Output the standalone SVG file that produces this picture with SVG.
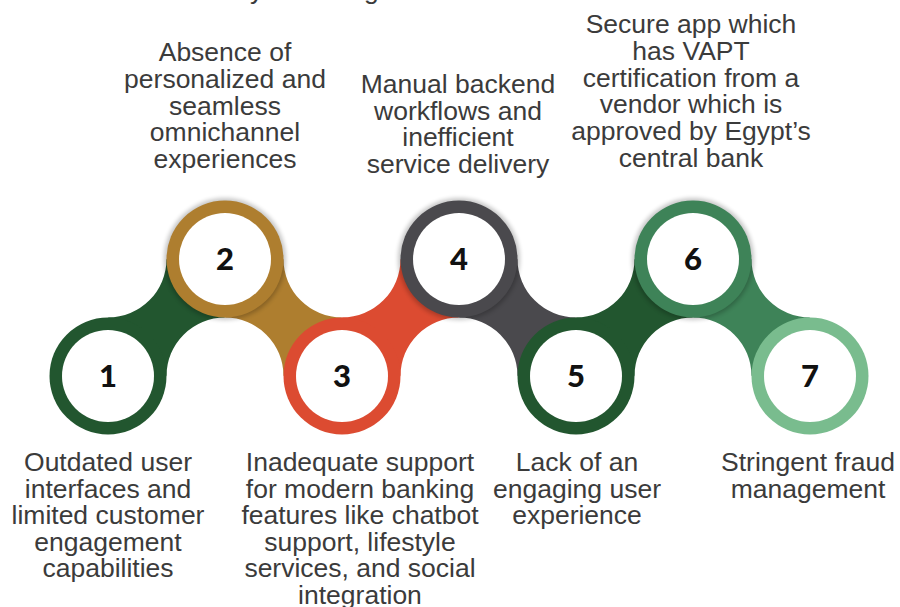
<svg xmlns="http://www.w3.org/2000/svg" width="900" height="607" viewBox="0 0 900 607">
<style>
.lbl{font-family:"Liberation Sans",Arial,sans-serif;font-size:26.5px;fill:#3b3b3b;text-anchor:middle}
.num{font-family:Lato,"DejaVu Sans",sans-serif;font-weight:900;font-size:31px;fill:#111;text-anchor:middle}
.inner{fill:#fff}
.shadow{fill:#000;opacity:0.22;filter:url(#blur)}
</style>
<defs>
<filter id="blur" x="-20%" y="-20%" width="140%" height="140%"><feGaussianBlur stdDeviation="2"/></filter>
</defs>
<rect width="900" height="607" fill="#fff"/>
<g id="title-fragment" class="lbl" style="text-anchor:start">
<text x="250" y="-1.5">y</text>
<text x="364" y="-1.5">g</text>
</g>
<g id="connectors">
<path fill="#22562F" d="M108,317.5 A58.5,58.5 0 0 0 166.5,259 L225,317.5 A58.5,58.5 0 0 0 166.5,376 Z"/>
<path fill="#AE7E2F" d="M283.5,259 A58.5,58.5 0 0 0 342,317.5 L283.5,376 A58.5,58.5 0 0 0 225,317.5 Z"/>
<path fill="#DC4B31" d="M342,317.5 A58.5,58.5 0 0 0 400.5,259 L459,317.5 A58.5,58.5 0 0 0 400.5,376 Z"/>
<path fill="#4A494D" d="M517.5,259 A58.5,58.5 0 0 0 576,317.5 L517.5,376 A58.5,58.5 0 0 0 459,317.5 Z"/>
<path fill="#22562F" d="M576,317.5 A58.5,58.5 0 0 0 634.5,259 L693,317.5 A58.5,58.5 0 0 0 634.5,376 Z"/>
<path fill="#3E8358" d="M751.5,259 A58.5,58.5 0 0 0 810,317.5 L751.5,376 A58.5,58.5 0 0 0 693,317.5 Z"/>
</g>
<g id="shadows">
<circle class="shadow" cx="225" cy="259" r="61"/>
<circle class="shadow" cx="459" cy="259" r="61"/>
<circle class="shadow" cx="693" cy="259" r="61"/>
</g>
<g id="node1">
<circle cx="108" cy="376" r="58.5" fill="#22562F"/>
<circle class="inner" cx="108" cy="376" r="46"/>
<text class="num" x="108" y="387">1</text>
<text class="lbl"><tspan x="108" y="471">Outdated user</tspan><tspan x="108" y="498">interfaces and</tspan><tspan x="108" y="524">limited customer</tspan><tspan x="108" y="551">engagement</tspan><tspan x="108" y="577">capabilities</tspan></text>
</g>
<g id="node2">
<circle cx="225" cy="259" r="58.5" fill="#AE7E2F"/>
<circle class="inner" cx="225" cy="259" r="46"/>
<text class="num" x="225" y="270">2</text>
<text class="lbl"><tspan x="225" y="61">Absence of</tspan><tspan x="225" y="88">personalized and</tspan><tspan x="225" y="115">seamless</tspan><tspan x="225" y="141">omnichannel</tspan><tspan x="225" y="168">experiences</tspan></text>
</g>
<g id="node3">
<circle cx="342" cy="376" r="58.5" fill="#DC4B31"/>
<circle class="inner" cx="342" cy="376" r="46"/>
<text class="num" x="342" y="387">3</text>
<text class="lbl"><tspan x="360" y="471">Inadequate support</tspan><tspan x="360" y="498">for modern banking</tspan><tspan x="360" y="524">features like chatbot</tspan><tspan x="360" y="551">support, lifestyle</tspan><tspan x="360" y="577">services, and social</tspan><tspan x="360" y="604">integration</tspan></text>
</g>
<g id="node4">
<circle cx="459" cy="259" r="58.5" fill="#4A494D"/>
<circle class="inner" cx="459" cy="259" r="46"/>
<text class="num" x="459" y="270">4</text>
<text class="lbl"><tspan x="458" y="93">Manual backend</tspan><tspan x="458" y="120">workflows and</tspan><tspan x="458" y="146">inefficient</tspan><tspan x="458" y="173">service delivery</tspan></text>
</g>
<g id="node5">
<circle cx="576" cy="376" r="58.5" fill="#22562F"/>
<circle class="inner" cx="576" cy="376" r="46"/>
<text class="num" x="576" y="387">5</text>
<text class="lbl"><tspan x="577" y="471">Lack of an</tspan><tspan x="577" y="498">engaging user</tspan><tspan x="577" y="524">experience</tspan></text>
</g>
<g id="node6">
<circle cx="693" cy="259" r="58.5" fill="#3E8358"/>
<circle class="inner" cx="693" cy="259" r="46"/>
<text class="num" x="693" y="270">6</text>
<text class="lbl"><tspan x="691" y="33">Secure app which</tspan><tspan x="691" y="60">has VAPT</tspan><tspan x="691" y="87">certification from a</tspan><tspan x="691" y="113">vendor which is</tspan><tspan x="691" y="140">approved by Egypt’s</tspan><tspan x="691" y="167">central bank</tspan></text>
</g>
<g id="node7">
<circle cx="810" cy="376" r="58.5" fill="#79BC8E"/>
<circle class="inner" cx="810" cy="376" r="46"/>
<text class="num" x="810" y="387">7</text>
<text class="lbl"><tspan x="808" y="471">Stringent fraud</tspan><tspan x="808" y="498">management</tspan></text>
</g>
</svg>
